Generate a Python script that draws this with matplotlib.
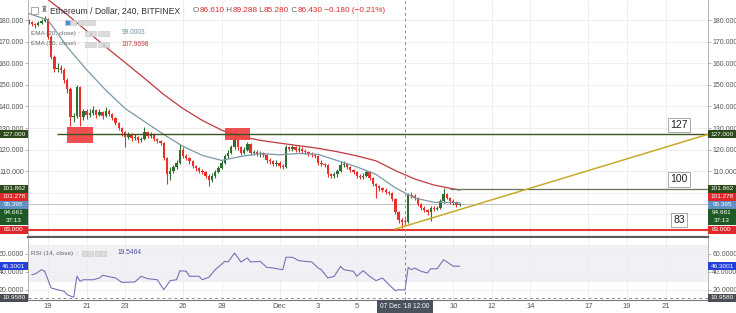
import numpy as np
import matplotlib.pyplot as plt
from matplotlib.patches import Rectangle

plt.rcParams['font.family'] = ['Liberation Sans', 'DejaVu Sans']

W, H = 736, 313

# ---- data (4h candles, ETH/USD Bitfinex, Nov 18 00:00 .. Dec 10 08:00) ----
open_first = 179.5
close = [179, 178, 177.5, 178.5, 179.5, 180.5, 172, 163, 157.5, 158,
         157, 152, 148, 135, 135.5, 149, 135, 138, 136, 137,
         138.5, 136, 137.5, 135.5, 138, 136.5, 134.5, 132.5, 130, 128,
         126, 127, 125.5, 126, 124.5, 125, 128, 126.5, 127, 125,
         124, 123, 116, 108.5, 110, 112, 114, 120, 117, 116,
         114.5, 112.5, 111.5, 110, 109.5, 108, 106, 108, 109.5, 111.5,
         114, 117, 118.5, 121, 124.5, 121, 118.5, 120, 122.5, 118.5,
         119, 118, 118.5, 117.5, 115, 114.5, 113.5, 114, 112.5, 112,
         121, 120.5, 121, 120, 120.5, 119.5, 119, 118, 117.5, 117,
         114, 113.5, 113, 108.5, 108, 108.5, 110, 113, 113.5, 112,
         110.5, 109.5, 108, 107.5, 108, 109.5, 107, 104, 103, 102,
         101.5, 100.5, 100, 97, 91, 87.5, 86.61, 86.43, 99, 98.5,
         97.5, 95, 93, 92, 91, 93, 92.5, 93, 96, 99.5,
         97.5, 96, 95.5, 94.5, 94.66]
high = [180.5, 179.5, 178.5, 179.5, 180.5, 182, 181, 173, 164, 160,
        159, 158, 153, 149, 137, 150, 149.5, 139, 139, 139,
        140, 139, 139, 138, 139.5, 139, 137, 135, 133, 130.5,
        128.5, 128, 127.5, 127, 126.5, 126, 130.5, 128.5, 128, 127.5,
        125.5, 124.5, 123.5, 116.5, 112, 113, 115, 122.5, 121, 118,
        116.5, 115, 113, 112, 111, 110, 108.5, 109, 110.5, 112.5,
        115, 118, 120, 122, 128, 125, 121.5, 121, 123.5, 123,
        120, 120, 119.5, 119, 118, 116, 115, 115, 114.5, 113.5,
        122, 121.5, 122, 121.5, 121.5, 121, 120.5, 119.5, 119, 118,
        117.5, 115, 114, 113.5, 109, 109.5, 111, 114.5, 114.5, 114,
        112.5, 111, 110, 108.5, 109, 110.5, 110, 107.5, 104.5, 103.5,
        102.5, 102, 101, 100.5, 97.5, 91.5, 88.5, 89.288, 100, 100.5,
        99.5, 98, 95.5, 94, 92.5, 94, 94, 94, 97, 102,
        100, 98, 97, 96, 95.5]
low = [178, 177, 176.5, 177, 178, 179, 171, 162, 156, 156,
       155.5, 151, 146, 131, 133, 134.5, 131, 133.5, 134, 135,
       136, 134.5, 135.5, 134, 135, 135.5, 133.5, 131.5, 129, 126.5,
       121, 125, 124, 124.5, 123, 123.5, 124.5, 125.5, 125.5, 124,
       123, 122, 115, 104, 106, 109, 111, 113.5, 116, 115,
       113.5, 111.5, 110, 109, 108.5, 107, 103, 105, 107, 109,
       111, 113.5, 116, 118, 120.5, 120, 117.5, 118, 119.5, 117.5,
       117.5, 117, 116.5, 116.5, 114, 113.5, 112.5, 112.5, 111.5, 111,
       111.5, 119.5, 119.5, 119, 119, 118.5, 118, 117, 116.5, 116,
       113, 112.5, 112, 107.5, 107, 107, 107.5, 109.5, 112, 111,
       109.5, 108.5, 107, 106.5, 106.5, 107.5, 106, 103, 97.5, 101,
       100.5, 99.5, 99, 96, 90, 86, 83.5, 85.28, 86, 97.5,
       96.5, 94, 92, 91, 89.5, 87, 91.5, 92, 92.5, 95.5,
       97, 95, 94.5, 93.5, 93.8]

ema_idx = list(range(0, 133, 6)) + [134]
ema20 = [183, 180, 167.5, 157, 147.5, 139, 133, 127, 121.5, 117.3, 115, 116.8,
         118.2, 117.6, 118.2, 117.8, 114.9, 112, 108.5, 102.3, 97.6, 95.6, 95.5, 95.4]
ema50 = [196, 189.5, 182.5, 175, 167.5, 160.3, 153, 145.5, 139, 133.5, 129, 126,
         124.3, 123, 121.8, 120.6, 119, 117.1, 114.8, 110.3, 106.4, 103.6, 101.8, 101.3]

rsi_idx = [1, 2, 4, 5, 7, 9, 11, 12, 14, 15, 16, 17, 20, 22, 23, 27, 29, 33, 35, 37,
           40, 42, 44, 46, 47, 49, 50, 53, 54, 56, 58, 61, 62, 64, 66, 68, 69, 72, 74, 76,
           79, 80, 82, 84, 86, 88, 90, 91, 93, 95, 97, 98, 101, 102, 104, 106, 108, 110, 112, 114,
           115, 117, 118, 119, 120, 122, 124, 125, 127, 129, 131, 132, 134]
rsi_val = [36.7, 37.5, 42.3, 40.5, 21.7, 19.8, 18, 14.2, 11.2, 34.9, 29.3, 31, 31, 33, 36, 33, 28, 28.5, 34.9, 32.2,
           31, 19.8, 30, 31, 41.2, 40.5, 34.9, 34.9, 31, 33.8, 42.3, 51.7, 51, 61.1, 51, 55.5, 51, 51.7, 45, 44.2,
           42.3, 56.3, 56.3, 52.5, 51.7, 51, 44.2, 42.3, 33, 34.9, 46.2, 42.3, 40.5, 34.9, 41.2, 34.9, 30, 33, 25.5, 18.7,
           19.8, 19.5, 45, 42.3, 44.2, 40.5, 38.6, 43.4, 43.4, 53.6, 48.7, 46.2, 46.3]

tick_idx = [6, 18, 30, 48, 60, 78, 90, 102, 132, 144, 156, 174, 186, 198]
tick_lab = ['19', '21', '23', '26', '28', 'Dec', '3', '5', '10', '12', '14', '17', '19', '21']

level_val = [127.0, 101.862, 83.0]
level_start = [8.7, 131, -1]
level_lab = ['127', '100', '83']
trend_idx = [114, 211]
trend_val = [83.2, 127.0]
zones = [(11.8, 19.9, 123.2, 130.3), (61, 68.8, 124.4, 129.9)]
cross_idx = 117

UP, DN = '#2f6e33', '#e8302a'
GRID = '#ededed'
TXT = '#555555'

close = np.array(close)
high = np.array(high)
low = np.array(low)
idx = np.arange(len(close))
opn = np.r_[open_first, close[:-1]]

fig = plt.figure(figsize=(W / 100, H / 100), dpi=100)
fig.patch.set_facecolor('white')
ax = fig.add_axes([28 / W, 1 - 237 / H, 680 / W, 237 / H])
rx = fig.add_axes([28 / W, 1 - 300 / H, 680 / W, 62 / H])

XL = (-0.2, 211.2)
for a in (ax, rx):
    a.set_xlim(*XL)
    a.set_xticks(tick_idx)
    a.grid(True, color=GRID, lw=0.6)
    a.set_axisbelow(True)
    for s in ('left', 'right'):
        a.spines[s].set_color('#a8a8a8')
        a.spines[s].set_linewidth(0.6)
    a.spines['top'].set_visible(False)
    a.axvline(cross_idx, color='#8c8c8c', lw=0.7, ls=(0, (3, 3)), zorder=4)

ax.spines['bottom'].set_color('#5a5a5a')
ax.spines['bottom'].set_linewidth(1.6)
rx.spines['bottom'].set_color('#777777')
rx.spines['bottom'].set_linewidth(0.8)

# main pane
ax.set_ylim(79.54, 189.26)
yt = list(range(90, 190, 10))
ax.set_yticks(yt)
ax.set_yticklabels(['' if v < 110 else f'{v:.3f}' for v in yt])
ax.tick_params(axis='y', left=True, right=True, labelleft=True, labelright=True,
               length=2, width=0.5, color='#999999', pad=1, labelsize=5, labelcolor=TXT)
ax.tick_params(axis='x', length=0, labelbottom=False)

for x0, x1, y0, y1 in zones:
    ax.add_patch(Rectangle((x0, y0), x1 - x0, y1 - y0, fc='#f03c3c', ec='none', alpha=0.9, zorder=3))

cols = np.where(close >= opn, UP, DN)
ax.vlines(idx, low, high, colors=cols, lw=0.8, zorder=2)
ax.bar(idx, np.maximum(np.abs(close - opn), 0.35), bottom=np.minimum(opn, close),
       width=0.74, color=cols, zorder=2)

ax.plot(ema_idx, ema20, color='#7b98a8', lw=0.9, zorder=2.5)
ax.plot(ema_idx, ema50, color='#c0383f', lw=0.9, zorder=2.5)

ax.axhline(close[-1], color='#b5b5b5', lw=0.6, zorder=1.5)
lc = ['#3c5220', '#66735a', '#e53935']
lw = [1.0, 0.9, 1.5]
for v, s, c, w in zip(level_val, level_start, lc, lw):
    ax.hlines(v, s, XL[1], color=c, lw=w, zorder=3)
ax.plot(trend_idx, trend_val, color='#c8aa2a', lw=1.1, zorder=3.5)

for v, s in zip(level_val, level_lab):
    ax.annotate(s, xy=(202.2, v), xytext=(0, 3.2), textcoords='offset points',
                ha='center', va='bottom', fontsize=7.5, color='#222222', zorder=6,
                bbox=dict(boxstyle='square,pad=0.22', fc='white', ec='#9a9a9a', lw=0.6))


def tag(a, y, s, fc, h):
    tr = a.get_yaxis_transform()
    for x0 in (-0.0412, 1.0):
        a.add_patch(Rectangle((x0, y - h / 2), 0.0412, h, transform=tr, fc=fc, ec='none',
                              clip_on=False, zorder=7))
        a.text(x0 + 0.0206, y, s, transform=tr, ha='center', va='center', color='white',
               fontsize=4.6, clip_on=False, zorder=8)


mh = 8 / 2.16
tag(ax, 127.0, '127.000', '#2d4a18', mh)
tag(ax, 101.86, '101.862', '#2d4a18', mh)
tag(ax, 98.1, '101.278', '#e0282a', mh)
tag(ax, 94.4, '95.395', '#5e90c2', mh)
tag(ax, 90.7, '94.661', '#1f5a26', mh)
tag(ax, 87.0, '37:13', '#1f5a26', mh)
tag(ax, 83.0, '83.000', '#e0282a', mh)

# RSI pane
rx.set_ylim(8.2, 78)
rx.axhspan(30, 70, color='#f1f1f5', zorder=0)
rx.plot(rsi_idx, rsi_val, color='#7672b8', lw=0.8, zorder=3)
rx.axhline(10.958, color='#8c8c8c', lw=0.7, ls=(0, (3, 3)), zorder=4)
rx.set_yticks([20, 40, 60])
rx.set_yticklabels(['20.0000', '40.0000', '60.0000'])
rx.tick_params(axis='y', left=True, right=True, labelleft=True, labelright=True,
               length=2, width=0.5, color='#999999', pad=1, labelsize=5, labelcolor=TXT)
rx.set_xticklabels(tick_lab)
rx.tick_params(axis='x', length=0, pad=2.5, labelsize=5.5, labelcolor=TXT)
rh = 8 / 0.888
tag(rx, 46.3, '46.3001', '#2440d8', rh)
tag(rx, 10.958, '10.9580', '#4a4d55', rh)

rx.annotate("07 Dec '18 12:00", xy=(cross_idx, 0), xycoords=('data', 'axes fraction'),
            xytext=(0, -5), textcoords='offset points', ha='center', va='center',
            fontsize=4.8, color='white', annotation_clip=False,
            bbox=dict(boxstyle='square,pad=0.45', fc='#4a505c', ec='none'))


# header and legends
def ftext(x, y, s, **kw):
    return fig.text(x / W, 1 - y / H, s, va='center', **kw)


def chain(t, parts, size):
    for s, c in parts:
        t = ax.annotate(s, xy=(1, 0.5), xycoords=t, va='center', ha='left', color=c,
                        fontsize=size, annotation_clip=False)
    return t


def boxes(x, y, n, first='#dcdcdc'):
    for k in range(n):
        fig.patches.append(Rectangle(((x + k * 6.3) / W, 1 - (y + 2.5) / H), 5 / W, 5 / H,
                                     transform=fig.transFigure, fc=first if k == 0 else '#dcdcdc',
                                     ec='#c4c4c4', lw=0.4))


fig.patches.append(Rectangle((31 / W, 1 - 14 / H), 7 / W, 7 / H, transform=fig.transFigure,
                             fc='white', ec='#888888', lw=0.5))
ftext(41, 11, '\u265c', fontsize=5.5, color='#777777')
ftext(50, 11, 'Ethereum / Dollar, 240, BITFINEX', fontsize=6.2, color='#333333')
ftext(183, 11, '-', fontsize=4.5, color='#999999')
t0 = ftext(193, 11, 'O', fontsize=5.9, color='#666666')
red = '#e0282a'
chain(t0, [('86.610', red), (' H', '#666666'), ('89.288', red), (' L', '#666666'), ('85.280', red),
           (' C', '#666666'), ('86.430', red), (' \u22120.180 (\u22120.21%)', red)], 5.9)

boxes(65, 22, 5, first='#4a90d0')
ftext(31, 33, 'EMA (20, close)', fontsize=4.6, color='#666666')
ftext(78, 33, '-', fontsize=4, color='#999999')
boxes(85, 33, 4)
ftext(122, 33, '99.0003', fontsize=4.8, color='#6f90a6')
ftext(31, 44, 'EMA (50, close)', fontsize=4.6, color='#666666')
ftext(78, 44, '-', fontsize=4, color='#999999')
boxes(85, 44, 4)
ftext(122, 44, '107.9698', fontsize=4.8, color='#c0383f')

ftext(31, 253, 'RSI (14, close)', fontsize=4.6, color='#666666')
ftext(76, 253, '-', fontsize=4, color='#999999')
boxes(82, 253, 4)
ftext(118, 253, '19.5464', fontsize=4.8, color='#4b4ba8')

fig.savefig('out.png', dpi=100)
